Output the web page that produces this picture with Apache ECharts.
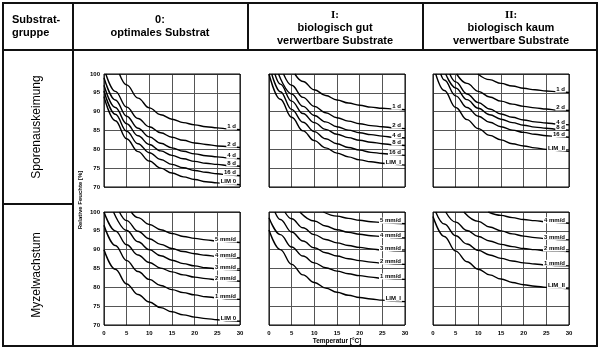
<!DOCTYPE html>
<html>
<head>
<meta charset="utf-8">
<script src="https://cdn.jsdelivr.net/npm/echarts@6/dist/echarts.min.js"></script>
<style>
  html, body { margin: 0; padding: 0; background: #fff; }
  #chart { width: 600px; height: 351px; }
</style>
</head>
<body>
<div id="chart"></div>
<script>
// Sporenauskeimung, Substratgruppe 0 / I / II  ([Temperatur, rel. Feuchte])
var s0_1d = [[3.4,100],[5,97.1],[7.5,93.6],[10,91.0],[12.5,89.2],[15,88.0],[17.5,87.1],[20,86.5],[22.5,86.0],[25,85.7],[27.5,85.4],[30,85.2]];
var s0_2d = [[0.4,100],[2.5,95.4],[5,91.2],[7.5,88.2],[10,86.0],[12.5,84.4],[15,83.2],[17.5,82.4],[20,81.7],[22.5,81.3],[25,80.9],[27.5,80.7],[30,80.5]];
var s0_4d = [[0,99],[2.5,93.1],[5,88.8],[7.5,85.6],[10,83.3],[12.5,81.6],[15,80.4],[17.5,79.5],[20,78.8],[22.5,78.3],[25,78.0],[27.5,77.7],[30,77.5]];
var s0_8d = [[0,97],[2.5,91.1],[5,86.8],[7.5,83.6],[10,81.3],[12.5,79.6],[15,78.4],[17.5,77.5],[20,76.8],[22.5,76.3],[25,76.0],[27.5,75.7],[30,75.5]];
var s0_16d = [[0,95.5],[2.5,89.3],[5,84.8],[7.5,81.5],[10,79.1],[12.5,77.3],[15,76.0],[17.5,75.1],[20,74.4],[22.5,73.9],[25,73.5],[27.5,73.2],[30,73.0]];
var s0_lim = [[0,94],[2.5,87.6],[5,82.8],[7.5,79.4],[10,76.9],[12.5,75.0],[15,73.7],[17.5,72.7],[20,72.0],[22.5,71.4],[25,71.1],[27.5,70.8],[30,70.6]];

var s1_1d = [[5.7,100],[7.5,98.0],[10,95.8],[12.5,94.3],[15,93.1],[17.5,92.3],[20,91.7],[22.5,91.2],[25,90.9],[27.5,90.7],[30,90.5]];
var s1_2d = [[3.2,100],[5,97.0],[7.5,93.8],[10,91.4],[12.5,89.7],[15,88.4],[17.5,87.5],[20,86.8],[22.5,86.3],[25,86.0],[27.5,85.7],[30,85.5]];
var s1_4d = [[2.1,100],[5,94.7],[7.5,91.4],[10,89.0],[12.5,87.3],[15,86.0],[17.5,85.1],[20,84.4],[22.5,83.9],[25,83.5],[27.5,83.2],[30,83.0]];
var s1_8d = [[1.3,100],[2.5,97.3],[5,92.8],[7.5,89.5],[10,87.1],[12.5,85.3],[15,84.0],[17.5,83.1],[20,82.4],[22.5,81.9],[25,81.5],[27.5,81.2],[30,81.0]];
var s1_16d = [[0.6,100],[2.5,95.3],[5,90.6],[7.5,87.2],[10,84.7],[12.5,82.8],[15,81.5],[17.5,80.5],[20,79.8],[22.5,79.2],[25,78.9],[27.5,78.6],[30,78.4]];
var s1_lim = [[0,100],[2.5,93.3],[5,88.5],[7.5,84.9],[10,82.3],[12.5,80.4],[15,79.0],[17.5,78.0],[20,77.2],[22.5,76.7],[25,76.3],[27.5,76.0],[30,75.8]];

var s2_1d = [[9.9,100],[12.5,98.5],[15,97.5],[17.5,96.8],[20,96.2],[22.5,95.8],[25,95.5],[27.5,95.3],[30,95.1]];
var s2_2d = [[5.2,100],[7.5,97.5],[10,95.4],[12.5,93.9],[15,92.8],[17.5,92.0],[20,91.4],[22.5,91.0],[25,90.7],[27.5,90.4],[30,90.3]];
var s2_4d = [[3.7,100],[5,97.9],[7.5,94.7],[10,92.4],[12.5,90.7],[15,89.4],[17.5,88.5],[20,87.8],[22.5,87.3],[25,87.0],[27.5,86.7],[30,86.5]];
var s2_8d = [[2.8,100],[5,96.3],[7.5,93.2],[10,90.9],[12.5,89.2],[15,88.0],[17.5,87.1],[20,86.4],[22.5,85.9],[25,85.6],[27.5,85.3],[30,85.1]];
var s2_16d = [[1.7,100],[2.5,98.4],[5,94.2],[7.5,91.1],[10,88.8],[12.5,87.2],[15,86.0],[17.5,85.1],[20,84.5],[22.5,84.0],[25,83.6],[27.5,83.4],[30,83.2]];
var s2_lim = [[0.6,100],[2.5,95.6],[5,91.1],[7.5,87.9],[10,85.5],[12.5,83.7],[15,82.5],[17.5,81.5],[20,80.9],[22.5,80.4],[25,80.0],[27.5,79.7],[30,79.5]];

// Myzelwachstum, Substratgruppe 0 / I / II
var m0_5 = [[6,100],[7.5,98.5],[10,96.7],[12.5,95.3],[15,94.3],[17.5,93.5],[20,93.0],[22.5,92.6],[25,92.3],[27.5,92.1],[30,91.9]];
var m0_4 = [[3.4,100],[5,97.7],[7.5,94.9],[10,92.9],[12.5,91.4],[15,90.3],[17.5,89.5],[20,88.9],[22.5,88.5],[25,88.2],[27.5,87.9],[30,87.8]];
var m0_3 = [[2.1,100],[5,95.1],[7.5,92.1],[10,90.0],[12.5,88.4],[15,87.2],[17.5,86.3],[20,85.7],[22.5,85.2],[25,84.9],[27.5,84.7],[30,84.5]];
var m0_2 = [[0,100],[2.5,95.0],[5,91.3],[7.5,88.6],[10,86.6],[12.5,85.1],[15,84.1],[17.5,83.3],[20,82.7],[22.5,82.3],[25,82.0],[27.5,81.8],[30,81.6]];
var m0_1 = [[0,96.5],[2.5,91.1],[5,87.1],[7.5,84.2],[10,82.1],[12.5,80.5],[15,79.4],[17.5,78.6],[20,78.0],[22.5,77.5],[25,77.2],[27.5,76.9],[30,76.8]];
var m0_lim = [[0,90],[2.5,84.8],[5,80.9],[7.5,78.1],[10,76.1],[12.5,74.6],[15,73.5],[17.5,72.7],[20,72.1],[22.5,71.7],[25,71.4],[27.5,71.1],[30,71.0]];

var m1_5 = [[12,100],[15,98.9],[17.5,98.3],[20,97.8],[22.5,97.4],[25,97.2],[27.5,97.0],[30,96.9]];
var m1_4 = [[6.8,100],[10,97.6],[12.5,96.3],[15,95.3],[17.5,94.6],[20,94.1],[22.5,93.7],[25,93.5],[27.5,93.2],[30,93.1]];
var m1_3 = [[3.5,100],[5,98.2],[7.5,95.8],[10,94.0],[12.5,92.7],[15,91.8],[17.5,91.1],[20,90.6],[22.5,90.2],[25,89.9],[27.5,89.7],[30,89.6]];
var m1_2 = [[1.3,100],[2.5,98.0],[5,94.7],[7.5,92.3],[10,90.5],[12.5,89.2],[15,88.3],[17.5,87.6],[20,87.1],[22.5,86.7],[25,86.4],[27.5,86.2],[30,86.1]];
var m1_1 = [[0,98.5],[2.5,94.0],[5,90.7],[7.5,88.3],[10,86.5],[12.5,85.2],[15,84.3],[17.5,83.6],[20,83.1],[22.5,82.7],[25,82.4],[27.5,82.2],[30,82.1]];
var m1_lim = [[0,95.2],[2.5,90.0],[5,86.1],[7.5,83.3],[10,81.3],[12.5,79.8],[15,78.7],[17.5,77.9],[20,77.3],[22.5,76.9],[25,76.6],[27.5,76.3],[30,76.2]];

var m2_4 = [[12.2,100],[15,99.1],[17.5,98.5],[20,98.0],[22.5,97.7],[25,97.4],[27.5,97.2],[30,97.0]];
var m2_3 = [[6.8,100],[10,97.5],[12.5,96.0],[15,95.0],[17.5,94.2],[20,93.6],[22.5,93.2],[25,92.9],[27.5,92.7],[30,92.6]];
var m2_2 = [[2.8,100],[5,97.3],[7.5,95.1],[10,93.5],[12.5,92.3],[15,91.4],[17.5,90.8],[20,90.3],[22.5,90.0],[25,89.7],[27.5,89.6],[30,89.5]];
var m2_1 = [[0.6,100],[2.5,96.8],[5,93.7],[7.5,91.5],[10,89.8],[12.5,88.6],[15,87.7],[17.5,87.0],[20,86.5],[22.5,86.2],[25,85.9],[27.5,85.8],[30,85.7]];
var m2_lim = [[0,98.8],[2.5,93.5],[5,89.6],[7.5,86.8],[10,84.8],[12.5,83.3],[15,82.2],[17.5,81.3],[20,80.7],[22.5,80.3],[25,80.0],[27.5,79.8],[30,79.6]];

var sporeNames = ['1 d', '2 d', '4 d', '8 d', '16 d'];
var myzNames = ['5 mm/d', '4 mm/d', '3 mm/d', '2 mm/d', '1 mm/d'];

var panels = [
    { col: 0, row: 0, curves: [s0_1d, s0_2d, s0_4d, s0_8d, s0_16d, s0_lim], names: sporeNames.concat(['LIM 0']) },
    { col: 1, row: 0, curves: [s1_1d, s1_2d, s1_4d, s1_8d, s1_16d, s1_lim], names: sporeNames.concat(['LIM_I']) },
    { col: 2, row: 0, curves: [s2_1d, s2_2d, s2_4d, s2_8d, s2_16d, s2_lim], names: sporeNames.concat(['LIM_II']) },
    { col: 0, row: 1, curves: [m0_5, m0_4, m0_3, m0_2, m0_1, m0_lim], names: myzNames.concat(['LIM 0']) },
    { col: 1, row: 1, curves: [m1_5, m1_4, m1_3, m1_2, m1_1, m1_lim], names: myzNames.concat(['LIM_I']) },
    { col: 2, row: 1, curves: [m2_4, m2_3, m2_2, m2_1, m2_lim], names: myzNames.slice(1).concat(['LIM_II']) }
];

// layout
var colLeft = [104, 269, 433];
var rowTop = [74, 212];
var plotW = 136, plotH = 113;
var FONT = 'Liberation Sans, Arial, sans-serif';
var tickStyle = { fontSize: 6, fontWeight: 'bold', color: '#000', fontFamily: FONT };

var grids = [], xAxes = [], yAxes = [], series = [], borders = [];

panels.forEach(function (p, i) {
    var left = colLeft[p.col], top = rowTop[p.row];
    grids.push({ left: left, top: top, width: plotW, height: plotH });
    xAxes.push({
        type: 'value', gridIndex: i, min: 0, max: 30, interval: 5,
        axisLine: { show: false }, axisTick: { show: false },
        axisLabel: Object.assign({ show: p.row === 1, margin: 5 }, tickStyle),
        splitLine: { lineStyle: { color: '#555', width: 1 } }
    });
    yAxes.push({
        type: 'value', gridIndex: i, min: 70, max: 100, interval: 5,
        axisLine: { show: false }, axisTick: { show: false },
        axisLabel: Object.assign({ show: p.col === 0, margin: 4 }, tickStyle),
        splitLine: { lineStyle: { color: '#555', width: 1 } }
    });
    borders.push({
        type: 'rect', z: 100,
        shape: { x: left, y: top, width: plotW, height: plotH },
        style: { fill: 'transparent', stroke: '#000', lineWidth: 1 }
    });
    p.curves.forEach(function (c, k) {
        series.push({
            type: 'line', name: p.names[k], xAxisIndex: i, yAxisIndex: i,
            data: c, smooth: 0.4, smoothMonotone: 'x', showSymbol: false,
            lineStyle: { color: '#000', width: 1.4 },
            endLabel: {
                show: true, formatter: p.names[k], distance: 0,
                align: 'right', offset: [-3, -3],
                fontSize: 6, fontWeight: 'bold', fontFamily: FONT, color: '#000',
                backgroundColor: '#fff', padding: [0, 1]
            }
        });
    });
});

function hline(x1, x2, y) {
    return { type: 'line', z: 50, shape: { x1: x1, y1: y, x2: x2, y2: y }, style: { stroke: '#111', lineWidth: 2 } };
}
function vline(x, y1, y2) {
    return { type: 'line', z: 50, shape: { x1: x, y1: y1, x2: x, y2: y2 }, style: { stroke: '#111', lineWidth: 2 } };
}
function txt(s, x, y, font, rot) {
    return {
        type: 'text', x: x, y: y, rotation: rot || 0, z: 60,
        style: { text: s, font: font, fill: '#000', textAlign: 'center', textVerticalAlign: 'middle' }
    };
}

var HEAD = 'bold 11px ' + FONT;
var SERIF = 'bold 11px Liberation Serif, Times New Roman, serif';

var table = [
    { type: 'rect', z: 50, shape: { x: 3, y: 3, width: 594, height: 343 }, style: { fill: 'transparent', stroke: '#111', lineWidth: 2 } },
    hline(3, 597, 50),
    hline(3, 73, 204),
    vline(73, 3, 346),
    vline(248, 3, 50),
    vline(423, 3, 50),
    { type: 'text', x: 12, y: 20, z: 60, style: { text: 'Substrat-', font: HEAD, fill: '#000', textVerticalAlign: 'middle' } },
    { type: 'text', x: 12, y: 33, z: 60, style: { text: 'gruppe', font: HEAD, fill: '#000', textVerticalAlign: 'middle' } },
    txt('0:', 160, 20, HEAD),
    txt('optimales Substrat', 160, 33, HEAD),
    txt('I:', 335, 15, SERIF),
    txt('biologisch gut', 335, 28, HEAD),
    txt('verwertbare Substrate', 335, 41, HEAD),
    txt('II:', 511, 15, SERIF),
    txt('biologisch kaum', 511, 28, HEAD),
    txt('verwertbare Substrate', 511, 41, HEAD),
    txt('Sporenauskeimung', 37, 127, '12px ' + FONT, Math.PI / 2),
    txt('Myzelwachstum', 37, 275, '12px ' + FONT, Math.PI / 2),
    txt('Relative Feuchte [%]', 80, 200, 'bold 6px ' + FONT, Math.PI / 2),
    txt('Temperatur [°C]', 337, 341, 'bold 6.5px ' + FONT)
];

var myChart = echarts.init(document.getElementById('chart'), null, { renderer: 'canvas' });
myChart.setOption({
    animation: false,
    backgroundColor: '#fff',
    grid: grids,
    xAxis: xAxes,
    yAxis: yAxes,
    series: series,
    graphic: table.concat(borders)
});
</script>
</body>
</html>
